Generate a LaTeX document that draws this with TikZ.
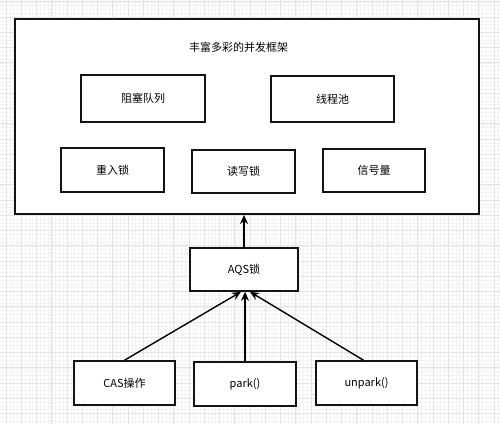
\documentclass[tikz,border=0pt]{standalone}
\usepackage{fontspec}
\setmainfont{Noto Sans CJK SC}
\usetikzlibrary{arrows.meta,calc}
\definecolor{gridmajor}{RGB}{228,228,228}
\definecolor{gridminor}{RGB}{243,243,243}
\definecolor{boxline}{RGB}{20,20,20}
\tikzset{
  box/.style={draw=boxline,line width=1.6pt,fill=white,inner sep=0pt,font=\fontsize{11}{13}\selectfont},
  conn/.style={draw=black,line width=1.4pt,-{Stealth[length=9pt,width=8pt]}},
  lbl/.style={font=\fontsize{11}{13}\selectfont,inner sep=0pt},
}
\begin{document}
\begin{tikzpicture}[x=1pt,y=-1pt]
\useasboundingbox (0,0) rectangle (500,424);
\fill[white] (0,0) rectangle (500,424);
% grid
\foreach \i in {-2,...,132} {
  \draw[gridminor,line width=0.5pt] ({6+\i*3.8125},0) -- ({6+\i*3.8125},424);
  \draw[gridminor,line width=0.5pt] (0,{1.75+\i*3.8125}) -- (500,{1.75+\i*3.8125});
}
\foreach \i in {0,...,33} {
  \draw[gridmajor,line width=0.6pt] ({6+\i*15.25},0) -- ({6+\i*15.25},424);
  \draw[gridmajor,line width=0.6pt] (0,{1.75+\i*15.25}) -- (500,{1.75+\i*15.25});
}
% outer frame
\node[draw=boxline,line width=2pt,fill=white,minimum width=464pt,minimum height=195pt,inner sep=0pt] (frame) at (247,116.5) {};
\node[lbl] (title) at (238.5,47) {丰富多彩的并发框架};
% inner boxes
\node[box,minimum width=124pt,minimum height=47pt] (queue) at (143,98.5) {阻塞队列};
\node[box,minimum width=123pt,minimum height=46pt] (pool) at (332.5,99) {线程池};
\node[box,minimum width=103pt,minimum height=44pt] (reentrant) at (112.5,170) {重入锁};
\node[box,minimum width=103pt,minimum height=43pt] (rwlock) at (243.5,171.5) {读写锁};
\node[box,minimum width=102pt,minimum height=43pt] (sem) at (374,170.5) {信号量};
% AQS
\node[box,minimum width=108pt,minimum height=43pt] (aqs) at (244,269.5) {AQS锁};
% bottom boxes
\node[box,minimum width=101pt,minimum height=44pt] (cas) at (124.5,383) {CAS操作};
\node[box,minimum width=102pt,minimum height=44pt] (park) at (245,384) {park()};
\node[box,minimum width=101pt,minimum height=44pt] (unpark) at (366.5,383) {unpark()};
% connectors
\draw[conn] (aqs.north) -- (aqs.north |- frame.south);
\draw[conn] (cas.north) -- ($(aqs.south)+(-3,0)$);
\draw[conn] (park.north) -- (park.north |- aqs.south);
\draw[conn] ($(unpark.north)+(-3,0)$) -- ($(aqs.south)+(6,0)$);
\end{tikzpicture}
\end{document}
